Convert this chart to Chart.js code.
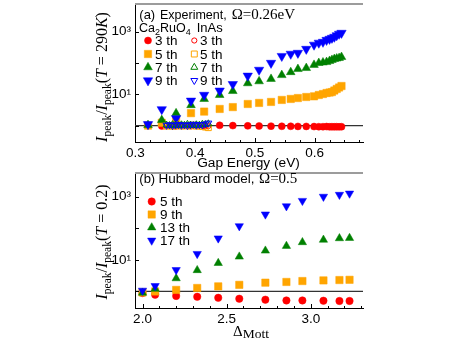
<!DOCTYPE html>
<html><head><meta charset="utf-8">
<script src="https://cdn.jsdelivr.net/npm/chart.js@4.4.1/dist/chart.umd.min.js"></script>
<style>
html,body{margin:0;padding:0;background:#fff;}
#wrap{position:relative;width:463px;height:339px;overflow:hidden;background:#fff;}
canvas{position:absolute;left:0;top:0;}
</style></head><body>
<div id="wrap"><canvas id="c2" width="463" height="339"></canvas><canvas id="c1" width="463" height="339"></canvas></div>
<script>
// ---------------- DATA ----------------
// (a) Experiment: Ca2RuO4 (filled) and InAs (open)
const gapEnergy = [0.321,0.344,0.368,0.393,0.415,0.441,0.463,0.488,0.507,0.527,0.545,0.560,0.572,0.586,0.599,0.607,0.614,0.620,0.625,0.629,0.633,0.637,0.641,0.645];
const caRuO4_3rd = [1.0,0.97,0.98,0.99,1.0,1.02,1.0,0.98,0.97,0.96,0.95,0.95,0.94,0.94,0.93,0.92,0.92,0.93,0.91,0.92,0.91,0.92,0.91,0.92];
const caRuO4_5th = [1.0,1.23,1.5,2.5,2.8,3.4,3.9,4.9,5.3,5.7,6.6,7.1,7.6,8.2,8.6,9.5,10.2,11,11.4,11.8,13.2,14.8,16.5,18.4];
const caRuO4_7th = [1.04,1.5,2.47,4.5,7.1,9.5,12.7,22.5,26,31,41,51,64,69,87,100,104,107,116,125,134,139,144,155];
const caRuO4_9th = [1.1,3.3,1.7,6.2,9.5,13,21,39,60,100,166,195,209,280,380,440,470,540,585,630,680,760,850,910];

const inAsEnergy = [0.352,0.357,0.362,0.367,0.372,0.377,0.382,0.387,0.392,0.397,0.402,0.407,0.412,0.417,0.422];
const inAs_3rd = [1.0,0.98,1.02,0.99,0.97,1.01,1.03,0.99,1.0,1.02,0.98,1.0,1.03,0.99,0.97];
const inAs_5th = [0.96,1.0,0.95,0.98,1.02,0.96,1.0,0.97,0.99,1.03,0.96,0.98,0.93,0.9,0.86];
const inAs_7th = [1.04,1.0,1.07,1.03,1.0,1.06,1.02,1.09,1.04,1.0,1.06,1.03,1.1,1.08,1.14];
const inAs_9th = [1.02,1.06,1.0,1.04,1.08,1.02,1.05,1.0,1.06,1.1,1.03,1.07,1.05,1.12,1.2];

// (b) Hubbard model
const mottGap = [2.0,2.075,2.2,2.325,2.45,2.575,2.73,2.855,2.95,3.075,3.17,3.23];
const hub_5th  = [0.89,0.79,0.72,0.68,0.63,0.59,0.55,0.52,0.52,0.51,0.5,0.5];
const hub_9th  = [0.93,1.0,1.12,1.29,1.45,1.62,1.9,2.0,2.14,2.24,2.3,2.34];
const hub_13th = [0.91,1.2,2.6,4.7,7.9,12.6,19.5,27.5,36,43,48,49];
const hub_17th = [1.07,1.5,4.8,15.5,48,117,275,500,740,1000,1150,1260];

// tick labels
const topXTicks = [0.3,0.4,0.5,0.6];
const topXTickLabels = ['0.3','0.4','0.5','0.6'];
const botXTicks = [2.0,2.5,3.0];
const botXTickLabels = ['2.0','2.5','3.0'];
const yTicks = [10,1000];
const yTickLabels = ['10\u00B9','10\u00B3'];
const topLegend = ['3 th','5 th','7 th','9 th'];
const botLegend = ['5 th','9 th','13 th','17 th'];

// ---------------- STYLE ----------------
const RED='#ff0000', ORANGE='#ffa500', GREEN='#008000', BLUE='#0000ff';
const SANS='"Liberation Sans", Arial, Helvetica, sans-serif';
const SERIF='"Liberation Serif", "Times New Roman", Times, serif';

function ds(xs, ys, style, color, r, filled, rot){
  return {
    data: xs.map((x,i)=>({x:x, y:ys[i]})),
    pointStyle: style, pointRadius: r, pointHoverRadius: r, pointRotation: rot||0,
    pointBackgroundColor: filled ? color : 'rgba(0,0,0,0)',
    pointBorderColor: color, pointBorderWidth: filled ? 0.5 : 1,
    showLine: false
  };
}

function marker(ctx, style, x, y, r, color, filled, rot){
  ctx.save();
  ctx.beginPath();
  if(style==='circle'){ ctx.arc(x,y,r,0,Math.PI*2); }
  else if(style==='rect'){ const s=Math.SQRT1_2*r; ctx.rect(x-s,y-s,2*s,2*s); }
  else { let a=(rot||0)*Math.PI/180;
    for(let k=0;k<3;k++){ const px=x+Math.sin(a)*r, py=y-Math.cos(a)*r; if(k===0)ctx.moveTo(px,py); else ctx.lineTo(px,py); a+=2*Math.PI/3; }
    ctx.closePath(); }
  if(filled){ ctx.fillStyle=color; ctx.fill(); ctx.lineWidth=0.5; ctx.strokeStyle=color; ctx.stroke(); }
  else { ctx.lineWidth=1; ctx.strokeStyle=color; ctx.stroke(); }
  ctx.restore();
}

function richWidth(ctx, segs){ let w=0; for(const s of segs){ ctx.font=s.f; w+=ctx.measureText(s.t).width; } return w; }
function drawRich(ctx, x, y, segs, align){
  let cx = align==='center' ? x - richWidth(ctx,segs)/2 : x;
  ctx.textAlign='left'; ctx.textBaseline='alphabetic';
  for(const s of segs){ ctx.font=s.f; ctx.fillStyle='#000'; ctx.fillText(s.t, cx, y+(s.dy||0)); cx+=ctx.measureText(s.t).width; }
}
function drawYTitle(ctx, x, y, segs){
  ctx.save(); ctx.translate(x,y); ctx.rotate(-Math.PI/2); drawRich(ctx,0,0,segs,'center'); ctx.restore();
}
function yTitleSegs(tail){
  const F='16px '+SERIF, I='italic 16px '+SERIF, S='11.5px '+SERIF;
  const segs=[{t:'I',f:I},{t:'peak',f:S,dy:3.5},{t:'/',f:F},{t:'I',f:I},{t:'peak',f:S,dy:3.5},{t:'(',f:F},{t:'T',f:I}];
  return segs.concat(tail.map(p=>({t:p[0], f:p[1]?I:F}))).concat([{t:')',f:F}]);
}

function axisDecor(chart, xMajor, xMinorStep, xMin, xMax){
  const ctx=chart.ctx, a=chart.chartArea, xs=chart.scales.x, ys=chart.scales.y;
  ctx.save();
  ctx.strokeStyle='#000'; ctx.lineWidth=1;
  ctx.beginPath();
  const n=Math.round((xMax-xMin)/xMinorStep);
  for(let k=0;k<=n;k++){
    const v=xMin+k*xMinorStep; const px=Math.round(xs.getPixelForValue(v))+0.5;
    if(px<a.left||px>a.right) continue;
    const major = xMajor.some(m=>Math.abs(m-v)<1e-6);
    ctx.moveTo(px,a.bottom); ctx.lineTo(px,a.bottom-(major?4:2));
  }
  [1,10,100,1000].forEach(v=>{ const py=Math.round(ys.getPixelForValue(v))+0.5; ctx.moveTo(a.left,py); ctx.lineTo(a.left+4,py); });
  ctx.stroke();
  ctx.strokeStyle='#9c9c9c'; ctx.lineWidth=2;
  ctx.beginPath(); ctx.moveTo(a.left,a.top); ctx.lineTo(a.right,a.top); ctx.stroke();
  ctx.restore();
}

const unityLine = {
  id:'unityLine',
  beforeDatasetsDraw(chart){
    const ctx=chart.ctx, a=chart.chartArea, y=chart.scales.y.getPixelForValue(1);
    ctx.save(); ctx.strokeStyle='#333'; ctx.lineWidth=1.2;
    ctx.beginPath(); ctx.moveTo(a.left,y); ctx.lineTo(a.right,y); ctx.stroke(); ctx.restore();
  }
};

const topDecor = {
  id:'topDecor',
  afterDraw(chart){
    const ctx=chart.ctx;
    axisDecor(chart, topXTicks, 0.025, 0.3, 0.675);
    drawYTitle(ctx, 107, 77, yTitleSegs([[' = 290',false],['K',true]]));
    drawRich(ctx, 248.5, 167, [{t:'Gap Energy (eV)', f:'13.7px '+SANS}], 'center');
    drawRich(ctx, 139.3, 18.5, [{t:'(a)',f:'13px '+SANS}]);
    drawRich(ctx, 160, 18.5, [{t:'Experiment,',f:'12.5px '+SANS}]);
    drawRich(ctx, 231.7, 18.5, [{t:'\u03A9=0.26eV',f:'15px '+SERIF}]);
    drawRich(ctx, 139, 31.5, [{t:'Ca',f:'12.5px '+SANS},{t:'2',f:'9px '+SANS,dy:3},{t:'RuO',f:'12.5px '+SANS},{t:'4',f:'9px '+SANS,dy:3}]);
    drawRich(ctx, 196.7, 31.5, [{t:'InAs',f:'13px '+SANS}]);
    const rows=[45,58.5,71.8,85];
    const sty=[['circle',3.5,2.6,0,RED],['rect',5.2,4.2,0,ORANGE],['triangle',5,4,0,GREEN],['triangle',5.4,4,180,BLUE]];
    rows.forEach((by,i)=>{
      const s=sty[i];
      marker(ctx, s[0], 148, by-4.5, s[1], s[4], true, s[3]);
      drawRich(ctx, 155, by, [{t:topLegend[i],f:'13.5px '+SANS}]);
      marker(ctx, s[0], 194.3, by-4.5, s[2], s[4], false, s[3]);
      drawRich(ctx, 200, by, [{t:topLegend[i],f:'13.5px '+SANS}]);
    });
  }
};

const botDecor = {
  id:'botDecor',
  afterDraw(chart){
    const ctx=chart.ctx;
    axisDecor(chart, botXTicks, 0.1, 2.0, 3.3);
    drawYTitle(ctx, 107, 242, yTitleSegs([[' = 0.2',false]]));
    drawRich(ctx, 233, 335.5, [{t:'\u0394',f:'15px '+SERIF},{t:'Mott',f:'13.5px '+SERIF,dy:2.5}]);
    drawRich(ctx, 139.3, 183, [{t:'(b)',f:'13px '+SANS}]);
    drawRich(ctx, 158.5, 183, [{t:'Hubbard model,',f:'13.5px '+SANS}]);
    drawRich(ctx, 259, 183, [{t:'\u03A9=0.5',f:'15px '+SERIF}]);
    const rows=[206,219,232,245];
    const sty=[['circle',3.7,0,RED],['rect',5.2,0,ORANGE],['triangle',4.8,0,GREEN],['triangle',4.8,180,BLUE]];
    rows.forEach((by,i)=>{
      const s=sty[i];
      marker(ctx, s[0], 151.7, by-4.5, s[1], s[3], true, s[2]);
      drawRich(ctx, 160, by, [{t:botLegend[i],f:'13.5px '+SANS}]);
    });
  }
};

function makeOptions(xmin, xmax, xt, xl, ymin, ymax, pad){
  return {
    responsive:false, animation:false, devicePixelRatio:1,
    layout:{padding:pad, autoPadding:false},
    plugins:{legend:{display:false}, tooltip:{enabled:false}},
    scales:{
      x:{type:'linear', min:xmin, max:xmax,
        afterBuildTicks:s=>{ s.ticks = xt.map(v=>({value:v})); },
        ticks:{callback:(v,i)=>xl[i], font:{family:SANS,size:13.5}, color:'#000', padding:3, maxRotation:0, autoSkip:false},
        grid:{display:false, drawTicks:false}, border:{display:true,color:'#000',width:1},
        afterFit:s=>{ s.height=20; s.paddingLeft=0; s.paddingRight=0; }},
      y:{type:'logarithmic', min:ymin, max:ymax,
        afterBuildTicks:s=>{ s.ticks = yTicks.map(v=>({value:v})); },
        ticks:{callback:(v,i)=>yTickLabels[i], font:{family:SANS,size:13.5}, color:'#000', padding:4, autoSkip:false},
        grid:{display:false, drawTicks:false}, border:{display:true,color:'#000',width:1},
        afterFit:s=>{ s.width=135; s.paddingTop=0; s.paddingBottom=0; }}
    }
  };
}

new Chart(document.getElementById('c1'), {
  type:'scatter',
  data:{datasets:[
    ds(inAsEnergy, inAs_9th, 'triangle', BLUE, 4, false, 180),
    ds(inAsEnergy, inAs_7th, 'triangle', GREEN, 4, false, 0),
    ds(inAsEnergy, inAs_5th, 'rect', ORANGE, 4.2, false, 0),
    ds(inAsEnergy, inAs_3rd, 'circle', RED, 2.6, false, 0),
    ds(gapEnergy, caRuO4_9th, 'triangle', BLUE, 5.4, true, 180),
    ds(gapEnergy, caRuO4_7th, 'triangle', GREEN, 5, true, 0),
    ds(gapEnergy, caRuO4_5th, 'rect', ORANGE, 5.2, true, 0),
    ds(gapEnergy, caRuO4_3rd, 'circle', RED, 3.5, true, 0)
  ]},
  options: makeOptions(0.2992, 0.681, topXTicks, topXTickLabels, 0.299, 7674, {left:0, top:4, right:100, bottom:177}),
  plugins:[unityLine, topDecor]
});

new Chart(document.getElementById('c2'), {
  type:'scatter',
  data:{datasets:[
    ds(mottGap, hub_17th, 'triangle', BLUE, 4.8, true, 180),
    ds(mottGap, hub_13th, 'triangle', GREEN, 4.8, true, 0),
    ds(mottGap, hub_9th, 'rect', ORANGE, 5.2, true, 0),
    ds(mottGap, hub_5th, 'circle', RED, 3.7, true, 0)
  ]},
  options: makeOptions(1.9554, 3.31, botXTicks, botXTickLabels, 0.3055, 5598, {left:0, top:173, right:100, bottom:11}),
  plugins:[unityLine, botDecor]
});
</script>
</body></html>
